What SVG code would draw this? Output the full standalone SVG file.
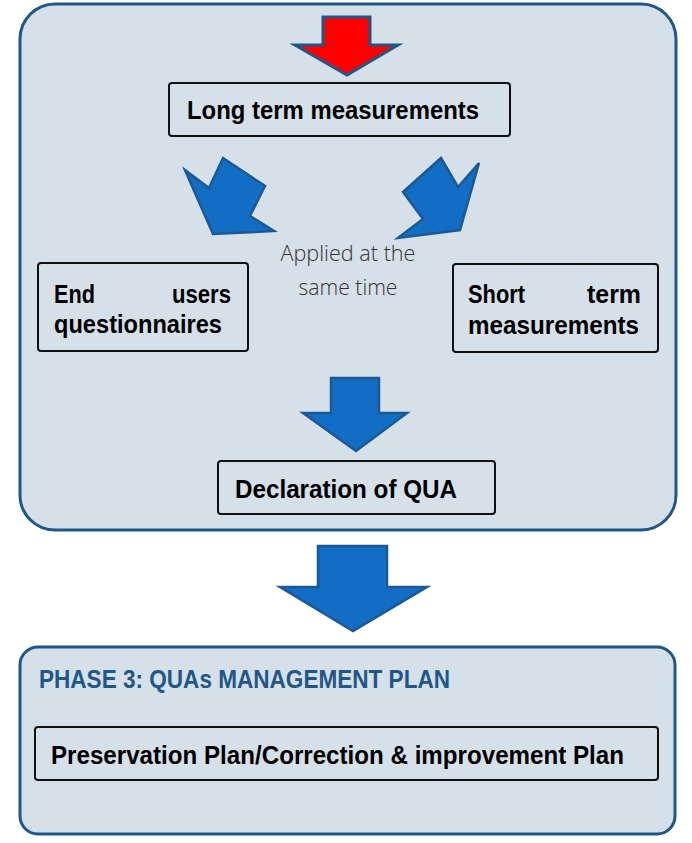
<svg xmlns="http://www.w3.org/2000/svg" width="692" height="843" viewBox="0 0 692 843">
<style>
.panel{fill:#d6e0e9;stroke:#1f5788;stroke-width:3}
.box{fill:#d6e0e9;stroke:#111;stroke-width:2}
.t{font-family:"Liberation Sans",Arial,sans-serif;font-weight:bold;font-size:26px;fill:#000}
.light{font-family:"Open Sans","Liberation Sans",sans-serif;font-weight:300;font-size:22px;fill:#333}
.title{font-family:"Liberation Sans",Arial,sans-serif;font-weight:bold;font-size:26px;fill:#1f5788}
.barrow{fill:#126ec4;stroke:#1a5996;stroke-width:2.5;stroke-linejoin:miter}
.rarrow{fill:#ff0000;stroke:#1f5788;stroke-width:3;stroke-linejoin:miter}
</style>
<rect width="692" height="843" fill="#ffffff"/>
<g id="phase2">
<rect class="panel" x="20" y="4" width="656" height="526" rx="35" ry="35"/>
</g>
<g id="connectors">
<polygon class="rarrow" points="323,17 370,17 370,45 398,45 347,75 295,45 323,45"/>
<polygon class="barrow" points="185,170 209,188 223,158 265,186 250,216 274,231 213,234"/>
<polygon class="barrow" points="403,192 441,158 458,187 479,163 460,230 398,238 423,219"/>
<polygon class="barrow" points="331,378 379,378 379,413 407,413 356,451 303,413 331,413"/>
<polygon class="barrow" points="318,546 387,546 387,587 427,587 353,631 280,587 318,587"/>
</g>
<g id="long-term">
<rect class="box" x="169" y="83" width="341" height="53" rx="3"/>
<text class="t" x="187" y="119" textLength="292" lengthAdjust="spacingAndGlyphs">Long term measurements</text>
</g>
<g id="applied-label">
<text class="light" x="348" y="261" text-anchor="middle" textLength="135" lengthAdjust="spacingAndGlyphs">Applied at the</text>
<text class="light" x="348" y="295" text-anchor="middle" textLength="99" lengthAdjust="spacingAndGlyphs">same time</text>
</g>
<g id="end-users">
<rect class="box" x="38" y="263" width="210" height="88" rx="3"/>
<text class="t" x="54" y="303" textLength="41" lengthAdjust="spacingAndGlyphs">End</text>
<text class="t" x="172" y="303" textLength="59" lengthAdjust="spacingAndGlyphs">users</text>
<text class="t" x="54" y="333" textLength="168" lengthAdjust="spacingAndGlyphs">questionnaires</text>
</g>
<g id="short-term">
<rect class="box" x="453" y="264" width="205" height="88" rx="3"/>
<text class="t" x="468" y="303" textLength="57" lengthAdjust="spacingAndGlyphs">Short</text>
<text class="t" x="587" y="303" textLength="54" lengthAdjust="spacingAndGlyphs">term</text>
<text class="t" x="468" y="334" textLength="171" lengthAdjust="spacingAndGlyphs">measurements</text>
</g>
<g id="declaration">
<rect class="box" x="218" y="461" width="277" height="53" rx="3"/>
<text class="t" x="235" y="498" textLength="222" lengthAdjust="spacingAndGlyphs">Declaration of QUA</text>
</g>
<g id="phase3">
<rect class="panel" x="20" y="647" width="655" height="187" rx="18" ry="18"/>
<text class="title" x="39" y="688" textLength="411" lengthAdjust="spacingAndGlyphs">PHASE 3: QUAs MANAGEMENT PLAN</text>
</g>
<g id="preservation">
<rect class="box" x="35" y="727" width="623" height="53" rx="3"/>
<text class="t" x="51" y="764" textLength="573" lengthAdjust="spacingAndGlyphs">Preservation Plan/Correction &amp; improvement Plan</text>
</g>
</svg>
